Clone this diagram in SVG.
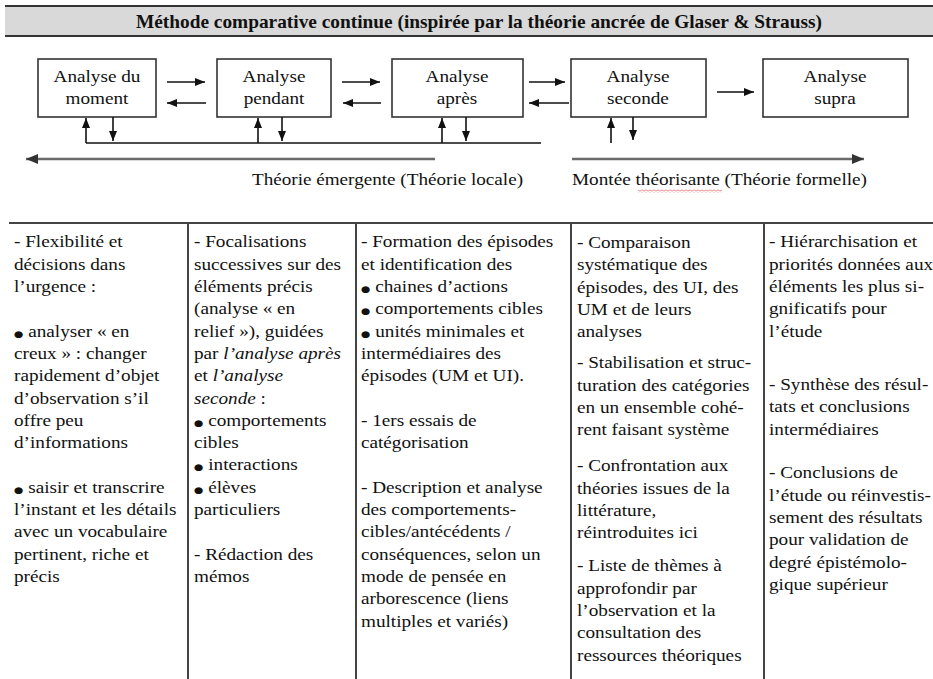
<svg xmlns="http://www.w3.org/2000/svg" width="933" height="679" viewBox="0 0 933 679">
<style>
  .bg{fill:#ffffff}
  .band{fill:#d9d9d9}
  .rule{stroke:#333;stroke-width:2}
  .title{font-family:"Liberation Serif","Times New Roman",serif;font-weight:bold;font-size:19px;fill:#111}
  .box{fill:#fff;stroke:#333;stroke-width:1.6}
  .lbl{font-family:"Liberation Serif","Times New Roman",serif;font-size:16px;fill:#111}
  .ctr{text-anchor:middle}
  .arr{stroke:#111;stroke-width:1.6;fill:none}
  .long{stroke:#6a6a6a;stroke-width:2.5;fill:none}
  .grid{stroke:#444;stroke-width:2;fill:none}
  .txt{font-family:"Liberation Serif","Times New Roman",serif;font-size:16px;fill:#111}
  .it{font-style:italic}
  .bul{font-family:"DejaVu Sans",sans-serif;font-size:9px}
</style>
<defs>
  <marker id="ah" viewBox="0 0 10 8" markerWidth="10" markerHeight="8" refX="10" refY="4" orient="auto" markerUnits="userSpaceOnUse">
    <path d="M0,0 L10,4 L0,8 z" fill="#111"/>
  </marker>
  <marker id="ahl" viewBox="0 0 12 10" markerWidth="12" markerHeight="10" refX="12" refY="5" orient="auto" markerUnits="userSpaceOnUse">
    <path d="M0,0 L12,5 L0,10 z" fill="#333"/>
  </marker>
  <pattern id="squig" width="4" height="3" patternUnits="userSpaceOnUse">
    <path d="M0,2.5 L2,0.5 L4,2.5" stroke="#e03030" stroke-width="0.8" fill="none"/>
  </pattern>
</defs>
<rect class="bg" x="0" y="0" width="933" height="679"/>

<g id="header">
  <rect class="band" x="5" y="6" width="928" height="30"/>
  <line class="rule" x1="5" y1="6" x2="933" y2="6"/>
  <line class="rule" x1="5" y1="36" x2="933" y2="36"/>
  <text class="title" font-family="Liberation Serif" x="136" y="28" textLength="686" lengthAdjust="spacingAndGlyphs">Méthode comparative continue (inspirée par la théorie ancrée de Glaser &amp; Strauss)</text>
</g>

<g id="n-moment" font-family="Liberation Serif">
  <rect class="box" x="38" y="59" width="118" height="58"/>
  <text class="lbl ctr" transform="translate(97,82) scale(1.2,1)">Analyse du</text>
  <text class="lbl ctr" transform="translate(97,104) scale(1.2,1)">moment</text>
</g>
<g id="n-pendant" font-family="Liberation Serif">
  <rect class="box" x="217" y="59" width="114" height="58"/>
  <text class="lbl ctr" transform="translate(274,82) scale(1.2,1)">Analyse</text>
  <text class="lbl ctr" transform="translate(274,104) scale(1.2,1)">pendant</text>
</g>
<g id="n-apres" font-family="Liberation Serif">
  <rect class="box" x="392" y="59" width="131" height="58"/>
  <text class="lbl ctr" transform="translate(457,82) scale(1.2,1)">Analyse</text>
  <text class="lbl ctr" transform="translate(457,104) scale(1.2,1)">après</text>
</g>
<g id="n-seconde" font-family="Liberation Serif">
  <rect class="box" x="571" y="59" width="135" height="58"/>
  <text class="lbl ctr" transform="translate(638,82) scale(1.2,1)">Analyse</text>
  <text class="lbl ctr" transform="translate(638,104) scale(1.2,1)">seconde</text>
</g>
<g id="n-supra" font-family="Liberation Serif">
  <rect class="box" x="763" y="59" width="145" height="58"/>
  <text class="lbl ctr" transform="translate(835,82) scale(1.2,1)">Analyse</text>
  <text class="lbl ctr" transform="translate(835,104) scale(1.2,1)">supra</text>
</g>

<g id="connectors">
  <path class="arr" d="M167,82 H205" marker-end="url(#ah)"/>
  <path class="arr" d="M206,103 H167" marker-end="url(#ah)"/>
  <path class="arr" d="M342,82 H380" marker-end="url(#ah)"/>
  <path class="arr" d="M381,103 H343" marker-end="url(#ah)"/>
  <path class="arr" d="M529,82 H565" marker-end="url(#ah)"/>
  <path class="arr" d="M569,103 H529" marker-end="url(#ah)"/>
  <path class="arr" d="M717,92 H754" marker-end="url(#ah)"/>

  <path class="arr" d="M86,143 H541"/>
  <path class="arr" d="M86,143 V118" marker-end="url(#ah)"/>
  <path class="arr" d="M113,117 V141" marker-end="url(#ah)"/>
  <path class="arr" d="M258,143 V118" marker-end="url(#ah)"/>
  <path class="arr" d="M282,117 V141" marker-end="url(#ah)"/>
  <path class="arr" d="M442,143 V118" marker-end="url(#ah)"/>
  <path class="arr" d="M466,117 V141" marker-end="url(#ah)"/>
  <path class="arr" d="M611,143 V118" marker-end="url(#ah)"/>
  <path class="arr" d="M633,117 V140" marker-end="url(#ah)"/>

  <path class="long" d="M435,159 H26" marker-end="url(#ahl)"/>
  <path class="long" d="M572,159 H864" marker-end="url(#ahl)"/>
</g>

<g id="axis-labels" font-family="Liberation Serif">
  <text class="lbl" x="252" y="185" textLength="271" lengthAdjust="spacingAndGlyphs">Théorie émergente (Théorie locale)</text>
  <text class="lbl" x="572" y="185" textLength="295" lengthAdjust="spacingAndGlyphs">Montée théorisante (Théorie formelle)</text>
  <rect x="638" y="189.5" width="84" height="3" fill="url(#squig)"/>
</g>

<g id="table-grid">
  <line class="grid" x1="9" y1="223" x2="933" y2="223"/>
  <line class="grid" x1="188" y1="223" x2="188" y2="679"/>
  <line class="grid" x1="356" y1="223" x2="356" y2="679"/>
  <line class="grid" x1="571" y1="223" x2="571" y2="679"/>
  <line class="grid" x1="764" y1="223" x2="764" y2="679"/>
</g>

<g id="col-moment" class="txt" font-family="Liberation Serif" transform="translate(14,0) scale(1.2,1)">
  <text x="0" y="247.5">- Flexibilité  et</text>
  <text x="0" y="269.8">décisions dans</text>
  <text x="0" y="292.1">l’urgence :</text>
  <text x="0" y="336.7"><tspan class="bul">●</tspan> analyser « en</text>
  <text x="0" y="359">creux » : changer</text>
  <text x="0" y="381.3">rapidement d’objet</text>
  <text x="0" y="403.6">d’observation s’il</text>
  <text x="0" y="425.9">offre peu</text>
  <text x="0" y="448.2">d’informations</text>
  <text x="0" y="492.8"><tspan class="bul">●</tspan> saisir et transcrire</text>
  <text x="0" y="515.1">l’instant et les détails</text>
  <text x="0" y="537.4">avec un vocabulaire</text>
  <text x="0" y="559.7">pertinent, riche et</text>
  <text x="0" y="582">précis</text>
</g>

<g id="col-pendant" class="txt" font-family="Liberation Serif" transform="translate(194,0) scale(1.2,1)">
  <text x="0" y="247.5">- Focalisations</text>
  <text x="0" y="269.8">successives sur des</text>
  <text x="0" y="292.1">éléments précis</text>
  <text x="0" y="314.4">(analyse « en</text>
  <text x="0" y="336.7">relief »),  guidées</text>
  <text x="0" y="359">par <tspan class="it">l’analyse après</tspan></text>
  <text x="0" y="381.3">et <tspan class="it">l’analyse</tspan></text>
  <text x="0" y="403.6"><tspan class="it">seconde</tspan> :</text>
  <text x="0" y="425.9"><tspan class="bul">●</tspan> comportements</text>
  <text x="0" y="448.2">cibles</text>
  <text x="0" y="470.5"><tspan class="bul">●</tspan> interactions</text>
  <text x="0" y="492.8"><tspan class="bul">●</tspan> élèves</text>
  <text x="0" y="515.1">particuliers</text>
  <text x="0" y="559.7">- Rédaction des</text>
  <text x="0" y="582">mémos</text>
</g>

<g id="col-apres" class="txt" font-family="Liberation Serif" transform="translate(361,0) scale(1.2,1)">
  <text x="0" y="247.5">- Formation des épisodes</text>
  <text x="0" y="269.8">et identification des</text>
  <text x="0" y="292.1"><tspan class="bul">●</tspan> chaines d’actions</text>
  <text x="0" y="314.4"><tspan class="bul">●</tspan> comportements cibles</text>
  <text x="0" y="336.7"><tspan class="bul">●</tspan> unités minimales et</text>
  <text x="0" y="359">intermédiaires des</text>
  <text x="0" y="381.3">épisodes (UM  et UI).</text>
  <text x="0" y="425.9">- 1ers essais de</text>
  <text x="0" y="448.2">catégorisation</text>
  <text x="0" y="492.8">- Description et analyse</text>
  <text x="0" y="515.1">des comportements-</text>
  <text x="0" y="537.4">cibles/antécédents /</text>
  <text x="0" y="559.7">conséquences, selon un</text>
  <text x="0" y="582">mode de pensée en</text>
  <text x="0" y="604.3">arborescence (liens</text>
  <text x="0" y="626.6">multiples et variés)</text>
</g>

<g id="col-seconde" class="txt" font-family="Liberation Serif" transform="translate(577,0) scale(1.2,1)">
  <text x="0" y="248">- Comparaison</text>
  <text x="0" y="270.3">systématique des</text>
  <text x="0" y="292.6">épisodes, des UI, des</text>
  <text x="0" y="314.9">UM et de leurs</text>
  <text x="0" y="337.2">analyses</text>
  <text x="0" y="368.5">- Stabilisation et struc-</text>
  <text x="0" y="390.8">turation des catégories</text>
  <text x="0" y="413.1">en un ensemble cohé-</text>
  <text x="0" y="435.4">rent faisant système</text>
  <text x="0" y="471.5">- Confrontation aux</text>
  <text x="0" y="493.8">théories issues de la</text>
  <text x="0" y="516.1">littérature,</text>
  <text x="0" y="538.4">réintroduites ici</text>
  <text x="0" y="571.5">- Liste de thèmes à</text>
  <text x="0" y="593.8">approfondir par</text>
  <text x="0" y="616.1">l’observation et la</text>
  <text x="0" y="638.4">consultation des</text>
  <text x="0" y="660.7">ressources théoriques</text>
</g>

<g id="col-supra" class="txt" font-family="Liberation Serif" transform="translate(769,0) scale(1.2,1)">
  <text x="0" y="247.5">- Hiérarchisation et</text>
  <text x="0" y="269.8">priorités  données aux</text>
  <text x="0" y="292.1">éléments les plus si-</text>
  <text x="0" y="314.4">gnificatifs pour</text>
  <text x="0" y="336.7">l’étude</text>
  <text x="0" y="390">- Synthèse des résul-</text>
  <text x="0" y="412.3">tats et conclusions</text>
  <text x="0" y="434.6">intermédiaires</text>
  <text x="0" y="478.5">- Conclusions de</text>
  <text x="0" y="500.8">l’étude ou réinvestis-</text>
  <text x="0" y="523.1">sement des résultats</text>
  <text x="0" y="545.4">pour validation de</text>
  <text x="0" y="567.7">degré épistémolo-</text>
  <text x="0" y="590">gique supérieur</text>
</g>
</svg>
